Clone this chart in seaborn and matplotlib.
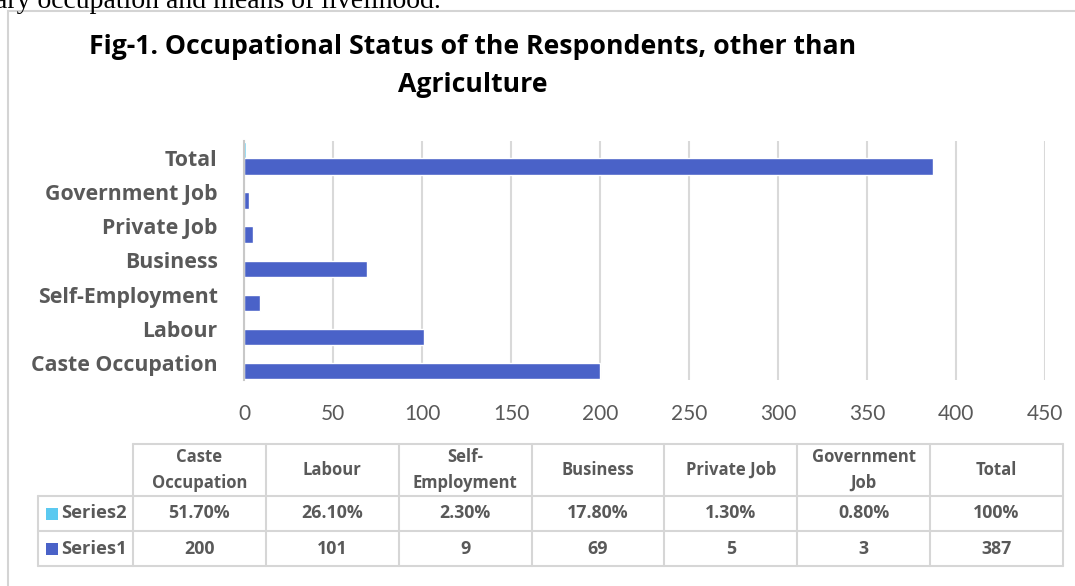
import matplotlib
matplotlib.use("Agg")
import matplotlib.pyplot as plt
from matplotlib.lines import Line2D
from matplotlib.patches import Rectangle
import seaborn as sns
import pandas as pd

# ---------------- data ----------------
categories = ["Caste Occupation", "Labour", "Self-Employment", "Business",
              "Private Job", "Government Job", "Total"]
table_headers = ["Caste\nOccupation", "Labour", "Self-\nEmployment", "Business",
                 "Private Job", "Government\nJob", "Total"]
series1_values = [200, 101, 9, 69, 5, 3, 387]
series2_values = [0.517, 0.261, 0.023, 0.178, 0.013, 0.008, 1.0]
series2_labels = ["51.70%", "26.10%", "2.30%", "17.80%", "1.30%", "0.80%", "100%"]
series1_labels = ["200", "101", "9", "69", "5", "3", "387"]
series_names = ["Series2", "Series1"]
x_ticks = [0, 50, 100, 150, 200, 250, 300, 350, 400, 450]

title = "Fig-1. Occupational Status of the Respondents, other than\nAgriculture"
above_text = "ary occupation and means of livelihood."

# ---------------- style ----------------
sns.set_style("white")
plt.rcParams["font.family"] = ["Lato", "DejaVu Sans"]
BF = ["Open Sans", "DejaVu Sans"]   # bold text family
GREY = "#595959"
GRID = "#d9d9d9"
C1 = "#4a62c8"
C2 = "#5bc9f0"

W, H = 1075, 586
fig = plt.figure(figsize=(W / 100, H / 100), dpi=100)
fig.patch.set_facecolor("white")


def fx(x):
    return x / W


def fy(y):
    return 1 - y / H


# cropped text above the chart
fig.text(fx(-5), fy(8), above_text, family=["Liberation Serif"], fontsize=20,
         ha="left", va="baseline", color="black")
# outer frame (cropped on right / bottom)
fig.add_artist(Rectangle((fx(8), fy(600)), fx(1090) - fx(8), fy(10.5) - fy(600),
                         transform=fig.transFigure, fill=False,
                         edgecolor="#d4d4d4", lw=1.5))

# ---------------- chart ----------------
ax = fig.add_axes([fx(244), fy(380), fx(1045) - fx(244), fy(141) - fy(380)])
order = categories[::-1]
df = pd.DataFrame({
    "category": categories * 2,
    "value": series1_values + series2_values,
    "series": ["Series1"] * len(categories) + ["Series2"] * len(categories),
})
sns.barplot(data=df, y="category", x="value", hue="series", order=order,
            hue_order=series_names, palette={"Series1": C1, "Series2": C2},
            orient="h", width=0.97, saturation=1, legend=False, ax=ax)

ax.set_xlim(0, 450)
ax.set_ylim(len(order) - 0.5, -0.5)
ax.set_xticks(x_ticks)
ax.set_xticklabels([str(t) for t in x_ticks], fontsize=15, color=GREY)
ax.tick_params(axis="x", length=0, pad=17)
ax.set_yticks(range(len(order)))
ax.set_yticklabels(order, fontsize=15.3, fontweight="bold", color=GREY,
                   family=BF)
ax.tick_params(axis="y", which="major", length=0, pad=19)
ax.set_yticks([i - 0.5 for i in range(len(order) + 1)], minor=True)
ax.tick_params(axis="y", which="minor", length=8, width=1.5, color="#c8c8c8")
ax.set_xlabel("")
ax.set_ylabel("")
ax.grid(axis="x", color=GRID, lw=1.5)
ax.set_axisbelow(True)
for s in ["top", "right", "bottom"]:
    ax.spines[s].set_visible(False)
ax.spines["left"].set_color("#c8c8c8")
ax.spines["left"].set_linewidth(1.5)

fig.text(fx(473), fy(47), title.split("\n")[0], ha="center", va="center",
         fontsize=19.2, fontweight="bold", color="black", family=BF)
fig.text(fx(473), fy(85), title.split("\n")[1], ha="center", va="center",
         fontsize=19.2, fontweight="bold", color="black", family=BF)

# ---------------- data table ----------------
x_left, x_col0, x_right = 38, 133, 1063
y_top, y_h, y_r2, y_r1 = 444, 496, 531, 566
ncol = len(categories)
colw = (x_right - x_col0) / ncol
TL = "#d6d6d6"


def hline(y, x0, x1):
    fig.add_artist(Line2D([fx(x0), fx(x1)], [fy(y), fy(y)], color=TL, lw=1.5,
                          transform=fig.transFigure))


def vline(x, y0, y1):
    fig.add_artist(Line2D([fx(x), fx(x)], [fy(y0), fy(y1)], color=TL, lw=1.5,
                          transform=fig.transFigure))


hline(y_top, x_col0, x_right)
for yy in (y_h, y_r2, y_r1):
    hline(yy, x_left, x_right)
vline(x_left, y_h, y_r1)
for i in range(ncol + 1):
    vline(x_col0 + i * colw, y_top, y_r1)

TS = 12
for i in range(ncol):
    cx = x_col0 + (i + 0.5) * colw
    fig.text(fx(cx), fy((y_top + y_h) / 2), table_headers[i], ha="center",
             va="center", fontsize=TS, fontweight="bold", color=GREY,
             linespacing=1.5, family=BF)
    fig.text(fx(cx), fy((y_h + y_r2) / 2), series2_labels[i], ha="center",
             va="center", fontsize=TS + 0.8, fontweight="bold", color=GREY,
             family=BF)
    fig.text(fx(cx), fy((y_r2 + y_r1) / 2), series1_labels[i], ha="center",
             va="center", fontsize=TS + 0.8, fontweight="bold", color=GREY,
             family=BF)

for name, yc, col in ((series_names[0], (y_h + y_r2) / 2, C2),
                      (series_names[1], (y_r2 + y_r1) / 2, C1)):
    fig.add_artist(Rectangle((fx(46), fy(yc + 6)), fx(12), 12 / H,
                             transform=fig.transFigure, facecolor=col,
                             edgecolor="none"))
    fig.text(fx(61), fy(yc), name, ha="left", va="center", fontsize=TS + 1.2,
             fontweight="bold", color=GREY, family=BF)

fig.savefig("out.png", dpi=100, facecolor="white")
